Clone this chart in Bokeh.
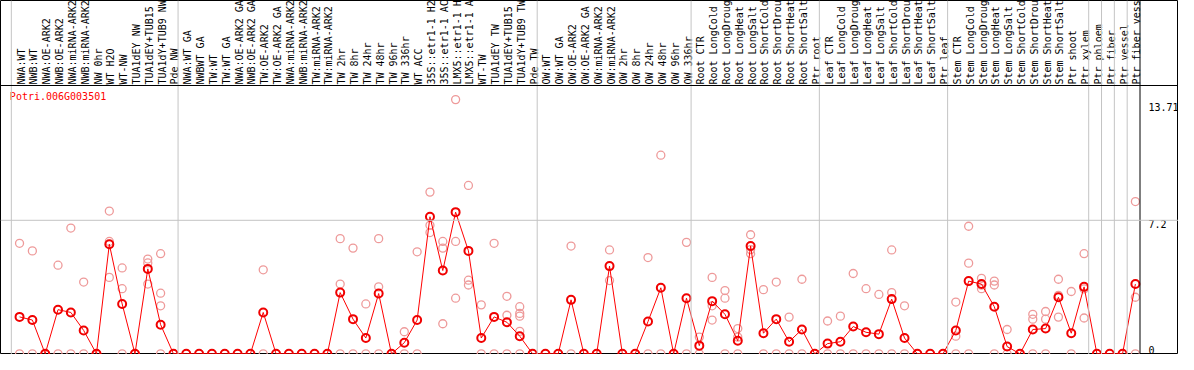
from math import pi
from bokeh.plotting import figure
from bokeh.models import Range1d, Span
from bokeh.core.properties import value
from bokeh.embed import file_html
from bokeh.resources import INLINE

# ---------------- data ----------------
gene = "Potri.006G003501"

labels_g1 = ["NWA:WT", "NWB:WT", "NWA:OE-ARK2", "NWB:OE-ARK2", "NWA:miRNA-ARK2",
             "NWB:miRNA-ARK2", "NW 0hr", "WT H2O", "WT-NW", "TUA1dEY NW",
             "TUA1dEY+TUB15", "TUA1dY+TUB9 NW", "Pde NW"]
labels_g2 = ["NWA:WT GA", "NWBWT GA", "TW:WT", "TW:WT GA", "NWA:OE-ARK2 GA",
             "NWB:OE-ARK2 GA", "TW:OE-ARK2", "TW:OE-ARK2 GA", "NWA:miRNA-ARK2",
             "NWB:miRNA-ARK2", "TW:miRNA-ARK2", "TW:miRNA-ARK2", "TW 2hr", "TW 8hr",
             "TW 24hr", "TW 48hr", "TW 96hr", "TW 336hr", "WT ACC", "35S::etr1-1 H2",
             "35S::etr1-1 AC", "LMX5::etr1-1 H", "LMX5::etr1-1 A", "WT-TW",
             "TUA1dEY TW", "TUA1dEY+TUB15", "TUA1dY+TUB9 TW", "Pde TW"]
labels_g3 = ["OW:WT", "OW:WT GA", "OW:OE-ARK2", "OW:OE-ARK2 GA", "OW:miRNA-ARK2",
             "OW:miRNA-ARK2", "OW 2hr", "OW 8hr", "OW 24hr", "OW 48hr", "OW 96hr",
             "OW 336hr"]
labels_g4 = ["Root CTR", "Root LongCold", "Root LongDroug", "Root LongHeat",
             "Root LongSalt", "Root ShortCold", "Root ShortDrou", "Root ShortHeat",
             "Root ShortSalt", "Ptr root"]
labels_g5 = ["Leaf CTR", "Leaf LongCold", "Leaf LongDroug", "Leaf LongHeat",
             "Leaf LongSalt", "Leaf ShortCold", "Leaf ShortDrou", "Leaf ShortHeat",
             "Leaf ShortSalt", "Ptr leaf"]
labels_g6 = ["Stem CTR", "Stem LongCold", "Stem LongDroug", "Stem LongHeat",
             "Stem LongSalt", "Stem ShortCold", "Stem ShortDrou", "Stem ShortHeat",
             "Stem ShortSalt", "Ptr shoot", "Ptr xylem"]
labels_g7 = ["Ptr phloem", "Ptr fiber", "Ptr vessel", "Ptr fiber vess"]
labels = labels_g1 + labels_g2 + labels_g3 + labels_g4 + labels_g5 + labels_g6 + labels_g7

means_g1 = [1.99, 1.82, 0, 2.38, 2.23, 1.26, 0, 5.91, 2.69, 0, 4.58, 1.57, 0]
means_g2 = [0, 0, 0, 0, 0, 0, 2.23, 0, 0, 0, 0, 0, 3.30, 1.87, 0.85, 3.25, 0, 0.60,
            1.82, 7.39, 4.49, 7.64, 5.55, 0.85, 1.99, 1.70, 0.95, 0]
means_g3 = [0, 0, 2.91, 0, 0, 4.73, 0, 0, 1.74, 3.56, 0, 3.00]
means_g4 = [0.44, 2.84, 2.13, 0.70, 5.81, 1.11, 1.87, 0.65, 1.31, 0]
means_g5 = [0.55, 0.65, 1.47, 1.16, 1.06, 2.95, 0.85, 0, 0, 0]
means_g6 = [1.26, 3.92, 3.76, 2.54, 0.39, 0, 1.31, 1.36, 3.05, 1.11, 3.61]
means_g7 = [0, 0, 0, 3.76]
means = means_g1 + means_g2 + means_g3 + means_g4 + means_g5 + means_g6 + means_g7

# replicate values: sample index -> replicate values
replicates = {
    0: [5.96, 0], 1: [5.55, 0], 2: [0, 0], 3: [4.78, 0], 4: [6.78, 0], 5: [3.87, 0],
    6: [0, 0], 7: [7.70, 6.06, 4.12], 8: [4.63, 3.51, 0], 9: [0, 0],
    10: [5.11, 4.90, 3.76], 11: [5.40, 3.27, 2.59, 0], 12: [0, 0],
    19: [4.53, 0], 25: [6.21, 3.76, 0], 26: [5.70, 0], 27: [2.69, 0],
    28: [6.21, 3.61, 0], 30: [1.19, 0], 31: [5.50, 0], 32: [8.72, 6.93, 6.54],
    33: [6.06, 5.70, 1.62], 34: [13.71, 6.06, 3.00], 35: [9.08, 3.97, 3.71],
    36: [2.64, 0], 37: [5.96, 0], 38: [3.10, 2.08, 0], 39: [2.54, 2.18, 2.03, 1.21, 0],
    43: [5.81, 0], 46: [5.60, 3.95], 49: [5.19, 0], 50: [10.71, 0], 52: [6.01, 0],
    53: [0.90, 0], 54: [4.12, 2.59, 1.82], 55: [3.41, 3.00, 0], 56: [1.36, 0.90, 0],
    57: [6.42, 5.40, 5.62], 58: [3.46, 0], 59: [3.87, 0], 60: [1.98, 0], 61: [4.02, 0],
    63: [1.77, 0], 64: [2.03, 0], 65: [4.33, 0], 66: [3.51, 0], 67: [3.20, 0],
    68: [5.60, 3.30, 0], 69: [2.59, 0], 73: [2.79, 0.95, 0], 74: [6.88, 4.89, 0],
    75: [4.07, 3.51, 3.70], 76: [3.92, 3.71, 0], 77: [1.31, 0], 79: [2.13, 1.87, 0],
    80: [2.28, 1.87, 0], 81: [4.02, 1.98, 3.15], 82: [3.36, 0], 83: [5.40, 1.93, 3.50],
    87: [8.21, 3.05, 0],
}

group_starts = [0, 13, 41, 53, 63, 73, 84, 85, 86, 87]
y_ticks = [13.71, 7.2, 0]
y_tick_labels = ["13.71", "7.2", "0"]

# ---------------- layout ----------------
W, H = 1178, 354
SEP_PX = 85.0
ZERO_PX = 353.3
S = (ZERO_PX - SEP_PX) / 14.47


def vpx(px):
    return (ZERO_PX - px) / S


x_start = -19.3 / 13
x_end = (1194 - 19.3) / 13

p = figure(width=W, height=H, x_range=Range1d(x_start, x_end),
           y_range=Range1d(vpx(H), vpx(0)), output_backend="svg",
           toolbar_location=None, min_border=0,
           x_axis_location=None, y_axis_location=None)
p.grid.visible = False
p.outline_line_color = "black"
p.outline_line_width = 1
p.background_fill_color = "white"
p.border_fill_color = "white"

GREY = "#c4c4c4"
for g in group_starts:
    p.add_layout(Span(location=g - 0.64, dimension="height", line_color=GREY, line_width=1))
p.add_layout(Span(location=88 - 0.64, dimension="height", line_color="black", line_width=1))
p.add_layout(Span(location=7.2, dimension="width", line_color=GREY, line_width=1))
p.add_layout(Span(location=vpx(SEP_PX), dimension="width", line_color="black", line_width=1))

idx = list(range(len(labels)))
mono = value("DejaVu Sans Mono")

p.text(x=[i + 0.12 for i in idx], y=[vpx(84)] * len(idx), text=labels, angle=pi / 2,
       text_font=mono, text_font_size="10px", text_align="left",
       text_baseline="alphabetic", text_color="black")

p.text(x=[(9.5 - 19.3) / 13], y=[vpx(90)], text=[gene], text_font=mono,
       text_font_size="10px", text_align="left", text_baseline="top", text_color="red")

tx = (1163.5 - 19.3) / 13
p.text(x=[tx], y=[y_ticks[0] - 3 / S], text=[y_tick_labels[0]], text_font=mono,
       text_font_size="10px", text_align="left", text_baseline="top", text_color="black")
p.text(x=[tx], y=[y_ticks[1]], text=[y_tick_labels[1]], text_font=mono,
       text_font_size="10px", text_align="left", text_baseline="top", text_color="black")
p.text(x=[tx], y=[y_ticks[2] + 3.5 / S], text=[y_tick_labels[2]], text_font=mono,
       text_font_size="10px", text_align="left", text_baseline="alphabetic", text_color="black")

rep_x, rep_y = [], []
for k, vals in replicates.items():
    for v in vals:
        rep_x.append(k)
        rep_y.append(v)

p.scatter(rep_x, rep_y, marker="circle", size=8, fill_color=None,
          line_color="#ee9a9a", line_width=1.3)
p.line(idx, means, line_color="red", line_width=1)
p.scatter(idx, means, marker="circle", size=8, fill_color=None,
          line_color="#f00000", line_width=2)

open("out.html", "w").write(file_html(p, INLINE))
